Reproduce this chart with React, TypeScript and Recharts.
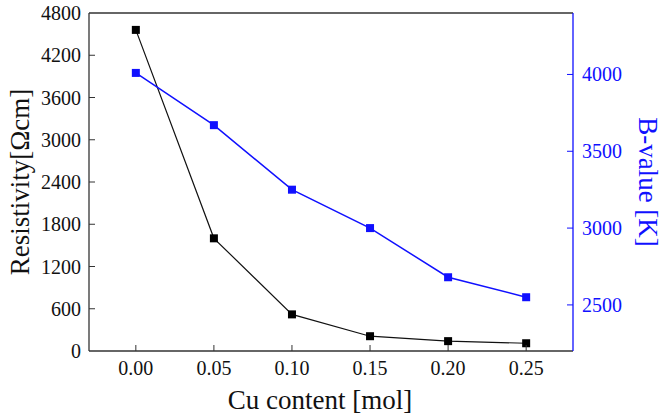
import React from 'react';
import { LineChart, Line, XAxis, YAxis, ReferenceLine } from 'recharts';

const cuContent = [0.0, 0.05, 0.1, 0.15, 0.2, 0.25];
const resistivity = [4560, 1600, 520, 210, 140, 110];
const bValue = [4010, 3670, 3250, 3000, 2680, 2550];

const xTicks = [0, 0.05, 0.1, 0.15, 0.2, 0.25];
const leftTicks = [0, 600, 1200, 1800, 2400, 3000, 3600, 4200, 4800];
const rightTicks = [2500, 3000, 3500, 4000];

const BLUE = '#1010ff';
const FONT = '"Liberation Serif", "Times New Roman", serif';
const TICK_SIZE = 20;
const TITLE_SIZE = 27;

const data = cuContent.map((c, i) => ({ cu: c, rho: resistivity[i], b: bValue[i] }));

const SquareDot = (color: string) => (props: any) => {
    const { cx, cy, index } = props;
    if (cx == null || cy == null) return null;
    return <rect key={`d-${index}`} x={cx - 4} y={cy - 4} width={8} height={8} fill={color} />;
};

const LeftTick = (props: any) => {
    const { x, y, payload } = props;
    const ax = x + 8;
    return (
        <g>
            {payload.value !== 0 && payload.value !== 4800 && (
                <line x1={ax} x2={ax + 6} y1={y} y2={y} stroke="#333" />
            )}
            <text x={x} y={y} dy={7} textAnchor="end" style={{ fontFamily: FONT, fontSize: TICK_SIZE }} fill="#111">
                {payload.value}
            </text>
        </g>
    );
};

const RightTick = (props: any) => {
    const { x, y, payload } = props;
    const ax = x - 9;
    return (
        <g>
            <line x1={ax - 6} x2={ax} y1={y} y2={y} stroke={BLUE} />
            <text x={x} y={y} dy={7} textAnchor="start" style={{ fontFamily: FONT, fontSize: TICK_SIZE }} fill={BLUE}>
                {payload.value}
            </text>
        </g>
    );
};

const BottomTick = (props: any) => {
    const { x, y, payload } = props;
    const ay = y - 8;
    return (
        <g>
            <line x1={x} x2={x} y1={ay - 6} y2={ay} stroke="#333" />
            <text x={x} y={y} dy={16} textAnchor="middle" style={{ fontFamily: FONT, fontSize: TICK_SIZE }} fill="#111">
                {payload.value.toFixed(2)}
            </text>
        </g>
    );
};

const LeftTitle = (props: any) => {
    const vb = props.viewBox || { x: 0, y: 13, width: 89, height: 338 };
    const cx = vb.x + 20;
    const cy = vb.y + vb.height / 2;
    return (
        <text x={cx} y={cy} dy={9} textAnchor="middle" transform={`rotate(-90 ${cx} ${cy})`}
            style={{ fontFamily: FONT, fontSize: TITLE_SIZE }} fill="#111">
            {'Resistivity[\u03A9cm]'}
        </text>
    );
};

const RightTitle = (props: any) => {
    const vb = props.viewBox || { x: 573, y: 13, width: 94, height: 338 };
    const cx = vb.x + 75;
    const cy = vb.y + vb.height / 2;
    return (
        <text x={cx} y={cy} dy={9} textAnchor="middle" transform={`rotate(90 ${cx} ${cy})`}
            style={{ fontFamily: FONT, fontSize: TITLE_SIZE }} fill={BLUE}>
            B-value [K]
        </text>
    );
};

const BottomTitle = (props: any) => {
    const vb = props.viewBox || { x: 89, y: 351, width: 484, height: 66 };
    const cx = vb.x + vb.width / 2 - 11;
    const cy = vb.y + 58;
    return (
        <text x={cx} y={cy} textAnchor="middle" style={{ fontFamily: FONT, fontSize: TITLE_SIZE }} fill="#111">
            Cu content [mol]
        </text>
    );
};

export default function App() {
    return (
        <div style={{ position: 'absolute', left: 0, top: 0, width: 667, height: 417, background: '#fff' }}>
            <LineChart width={667} height={417} data={data} margin={{ top: 13, right: 0, left: 0, bottom: 0 }}>
                <XAxis
                    dataKey="cu"
                    type="number"
                    domain={[-0.03, 0.28]}
                    ticks={xTicks}
                    allowDataOverflow
                    height={66}
                    tickSize={0}
                    tickMargin={8}
                    tick={<BottomTick />}
                    stroke="#333"
                    strokeWidth={1.3}
                    label={<BottomTitle />}
                />
                <YAxis
                    yAxisId="left"
                    domain={[0, 4800]}
                    ticks={leftTicks}
                    allowDataOverflow
                    width={89}
                    tickSize={0}
                    tickMargin={8}
                    tick={<LeftTick />}
                    stroke="#333"
                    strokeWidth={1.3}
                    label={<LeftTitle />}
                />
                <YAxis
                    yAxisId="right"
                    orientation="right"
                    domain={[2200, 4400]}
                    ticks={rightTicks}
                    allowDataOverflow
                    width={94}
                    tickSize={0}
                    tickMargin={9}
                    tick={<RightTick />}
                    stroke={BLUE}
                    strokeWidth={1.3}
                    label={<RightTitle />}
                />
                <ReferenceLine yAxisId="left" y={4800} stroke="#333" strokeWidth={1.3} />
                <Line
                    yAxisId="left"
                    dataKey="rho"
                    stroke="#111"
                    strokeWidth={1.2}
                    dot={SquareDot('#000')}
                    activeDot={false}
                    isAnimationActive={false}
                />
                <Line
                    yAxisId="right"
                    dataKey="b"
                    stroke={BLUE}
                    strokeWidth={1.5}
                    dot={SquareDot(BLUE)}
                    activeDot={false}
                    isAnimationActive={false}
                />
            </LineChart>
        </div>
    );
}
